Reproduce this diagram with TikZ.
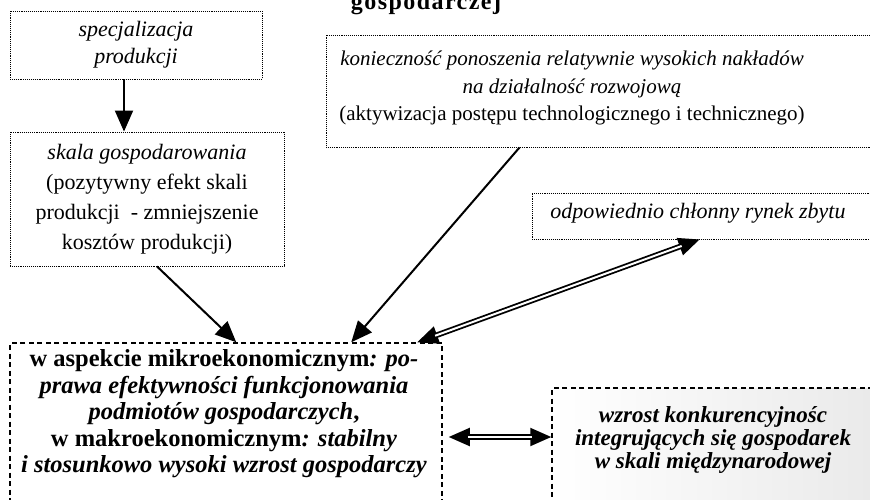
\documentclass[tikz,border=0pt]{standalone}
\usepackage{fontspec}
\setmainfont{Liberation Serif}
\newfontfamily\titlefont[LetterSpace=6]{Liberation Serif}
\usetikzlibrary{arrows.meta,fit}
\begin{document}
\begin{tikzpicture}[x=1pt,y=-1pt,
  dotbox/.style={draw, line width=0.9pt, dash pattern=on 1pt off 0.9pt, inner sep=0pt},
  dashbox/.style={draw, line width=1.5pt, dash pattern=on 5pt off 3.5pt, inner sep=0pt},
  txt/.style={align=center, inner sep=0pt},
  tip/.style={Triangle[length=21pt,width=18pt]},
  arr/.style={line width=2pt, -{Triangle[length=21pt,width=18pt]}},
  % heads of a two-line connector, drawn under its double shaft
  dblheads/.style={line width=2pt, {Triangle[length=21pt,width=18pt]}-{Triangle[length=21pt,width=18pt]}},
  dblshaft/.style={double, double distance=2pt, line width=1.8pt,
    shorten <=19pt, shorten >=19pt}
]
\useasboundingbox (0,0) rectangle (870,500);
\clip (0,0) rectangle (870,500);

% heading, cut by the top edge
\node[txt, anchor=base, font=\titlefont\bfseries\fontsize{24}{24}\selectfont]
  (title) at (426,10) {gospodarczej};

% upper boxes
\node[dotbox, txt, minimum width=252pt, minimum height=68pt,
  font=\itshape\fontsize{22}{27}\selectfont] (b1) at (136,45)
  {specjalizacja\\produkcji};

\node[dotbox, txt, minimum width=274pt, minimum height=134pt,
  font=\fontsize{22}{30}\selectfont] (b2) at (147,199)
  {\textit{skala gospodarowania}\\(pozytywny efekt skali\\produkcji\ \ - zmniejszenie\\kosztów produkcji)};

\node[dotbox, fit={(326,35) (900,147)}] (b3) {};
\node[txt, font=\fontsize{21}{27.5}\selectfont] (b3t) at (572,88)
  {\textit{konieczność ponoszenia relatywnie wysokich nakładów}\\
   \textit{na działalność rozwojową}\\
   (aktywizacja postępu technologicznego i technicznego)};

\node[dotbox, fit={(532,193) (900,239)}] (b4) {};
\node[txt, font=\itshape\fontsize{22}{26}\selectfont] (b4t) at (698,213)
  {odpowiednio chłonny rynek zbytu};

% lower boxes
\node[dashbox, fit={(10,343) (442,531)}] (b5) {};
\node[txt, font=\bfseries\fontsize{24.5}{26.5}\selectfont] (b5t) at (224,414)
  {w aspekcie mikroekonomicznym\textit{: po-}\\
   \textit{prawa efektywności funkcjonowania}\\
   \textit{podmiotów gospodarczych},\\
   w makroekonomicznym\textit{: stabilny}\\
   \textit{i stosunkowo wysoki wzrost gospodarczy}};

\node[dashbox, fit={(552,388) (900,540)}, left color=white, right color=black!9] (b6) {};
\node[txt, font=\bfseries\itshape\fontsize{23}{23}\selectfont] (b6t) at (713,440)
  {wzrost konkurencyjnośc\\integrujących się gospodarek\\w skali międzynarodowej};

% connectors
\draw[arr] ([xshift=-12pt]b1.south) -- ([xshift=-12pt]b1.south |- b2.north);
\draw[arr] ([xshift=10pt]b2.south) -- ([xshift=227pt]b5.north west);
\draw[arr] ([xshift=194pt]b3.south west) -- ([xshift=342pt]b5.north west);

\draw[dblheads] ([xshift=408pt]b5.north west) -- ([xshift=168pt]b4.south west);
\draw[dblshaft] ([xshift=408pt]b5.north west) -- ([xshift=168pt]b4.south west);
\draw[dblheads] ([xshift=6pt]b5.east) -- (b6.west |- b5.east);
\draw[dblshaft] ([xshift=6pt]b5.east) -- (b6.west |- b5.east);
\end{tikzpicture}
\end{document}
